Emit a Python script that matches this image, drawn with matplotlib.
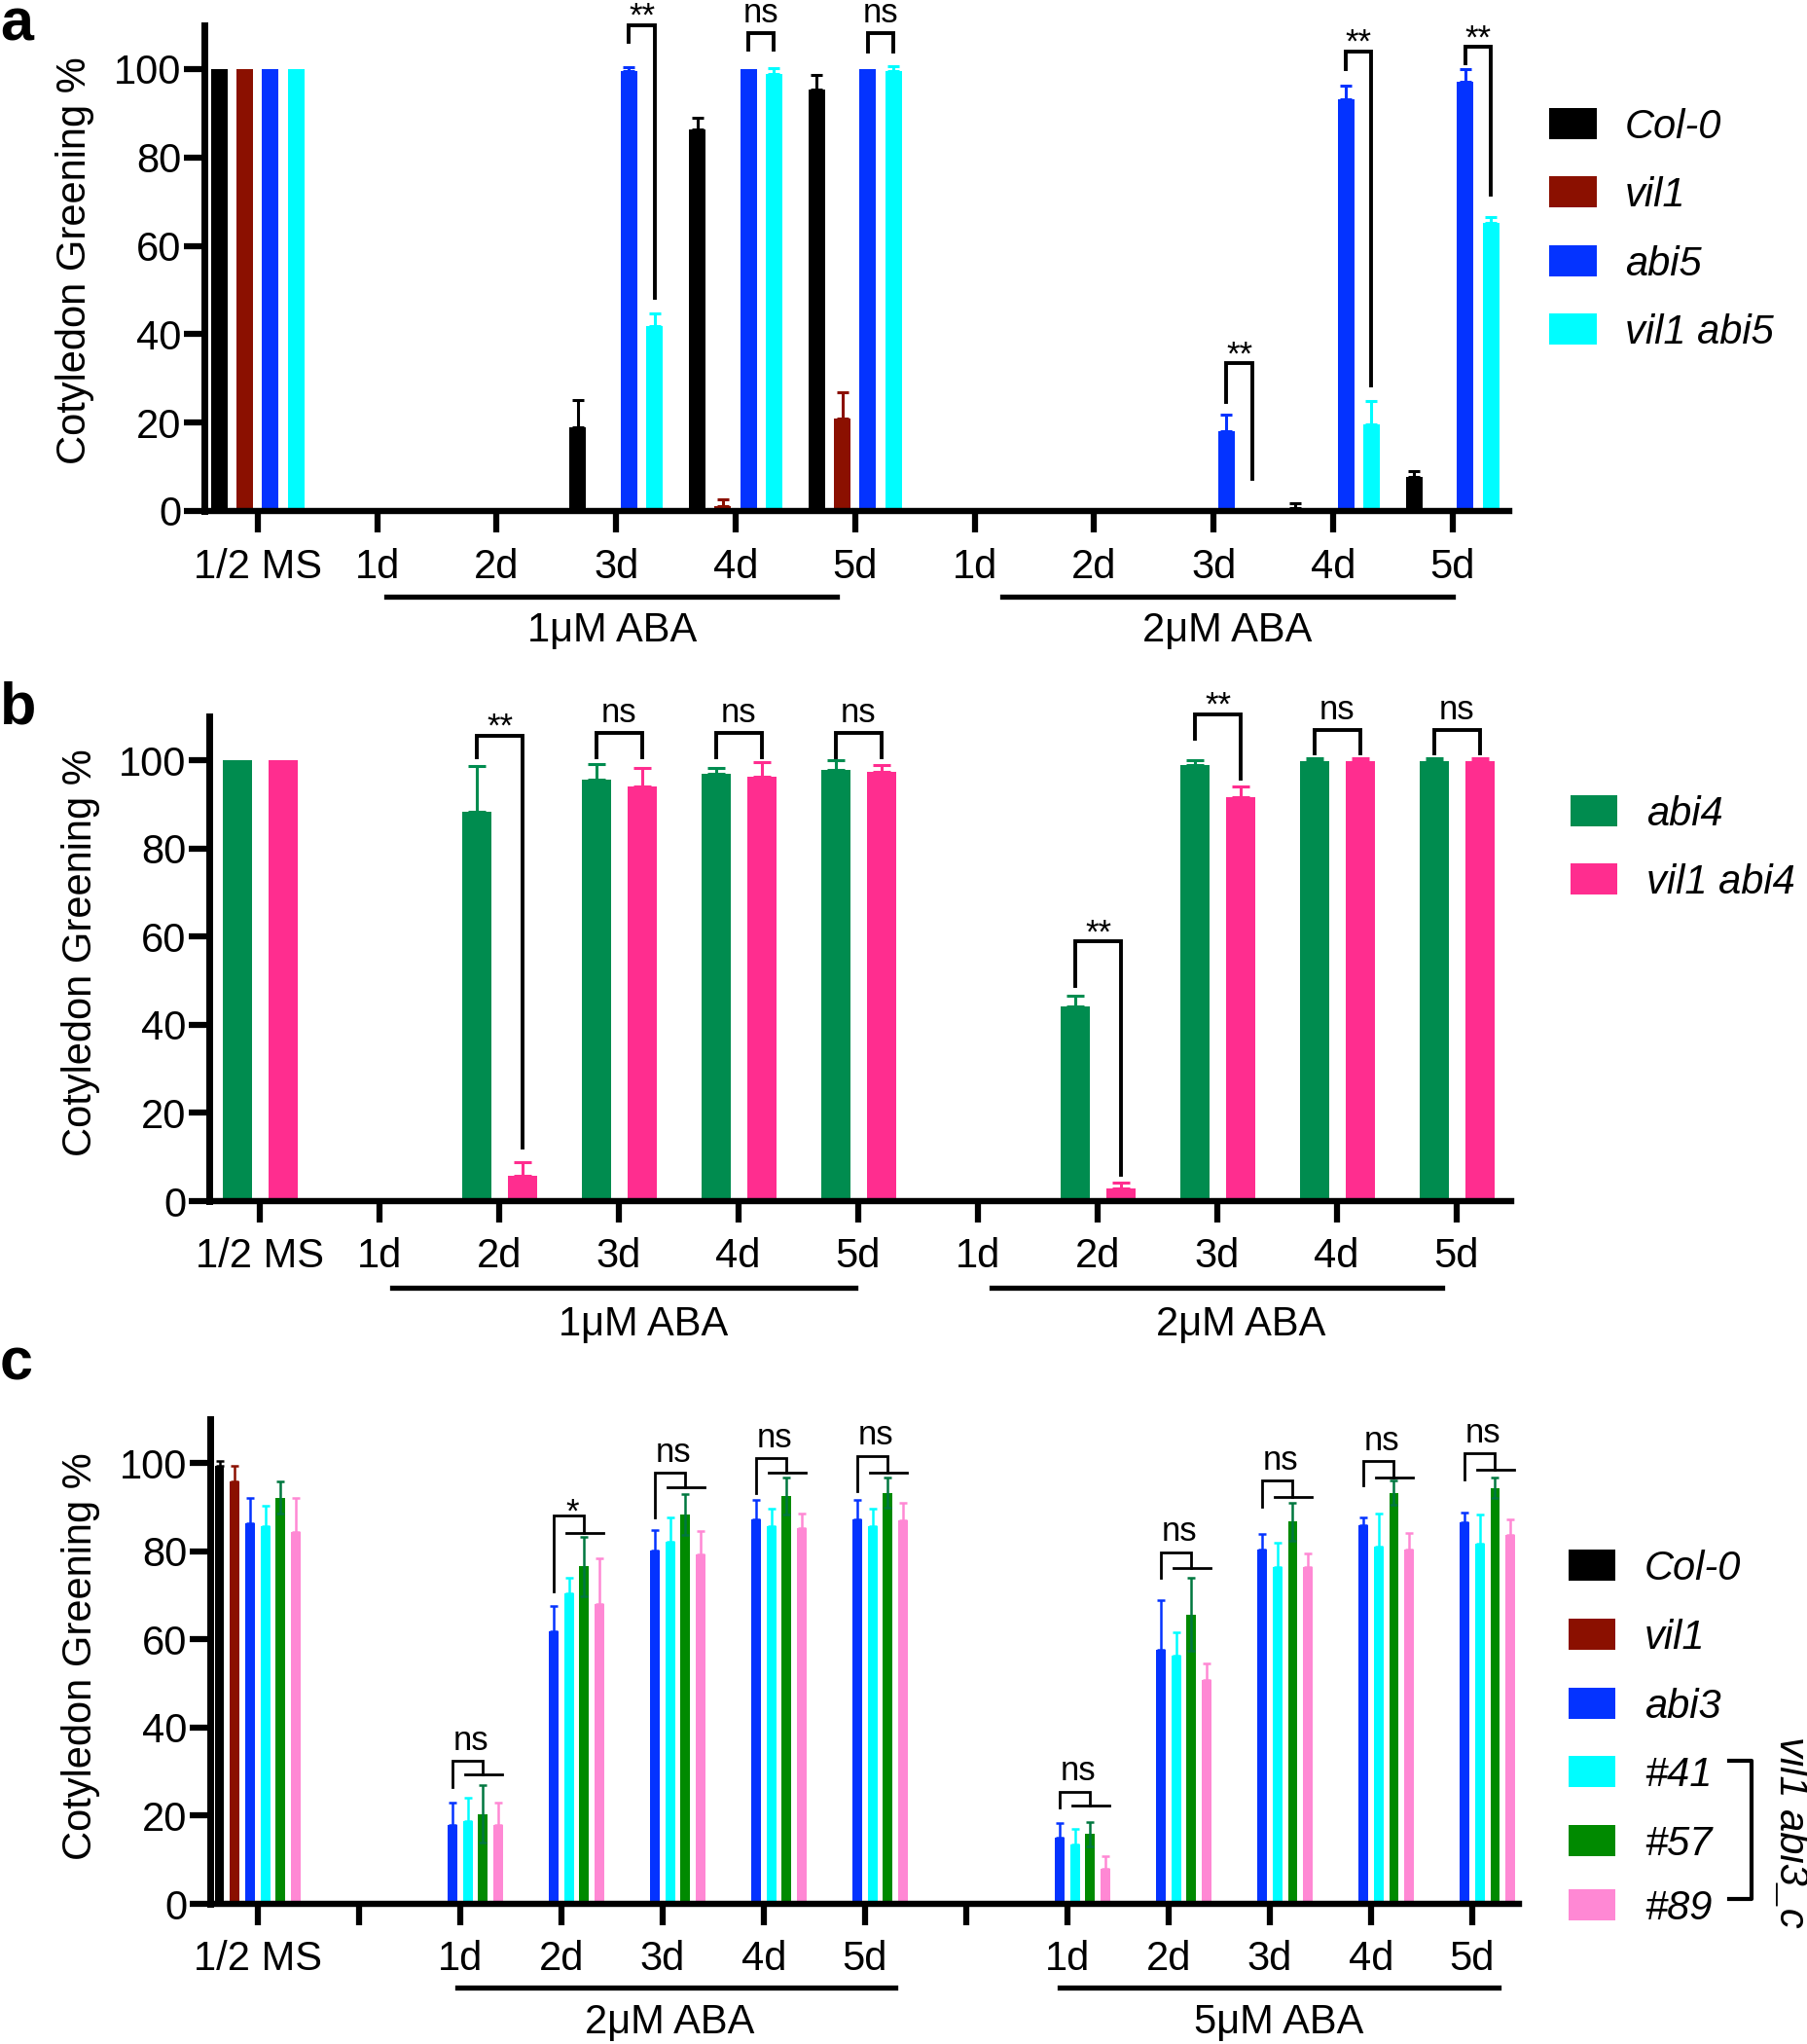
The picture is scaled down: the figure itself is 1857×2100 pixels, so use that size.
import numpy as np
import matplotlib
matplotlib.use("Agg")
import matplotlib.pyplot as plt
from matplotlib.patches import Rectangle
from matplotlib.lines import Line2D

plt.rcParams["font.family"] = ["Liberation Sans", "DejaVu Sans"]

W, H = 1858, 2100

# ---------------- data ----------------
groups_ab = ["1/2 MS", "1d", "2d", "3d", "4d", "5d", "1d", "2d", "3d", "4d", "5d"]
groups_c = ["1/2 MS", "", "1d", "2d", "3d", "4d", "5d", "", "1d", "2d", "3d", "4d", "5d"]

# panel a
a_names = ["Col-0", "vil1", "abi5", "vil1 abi5"]
a_colors = ["#000000", "#8B1000", "#0433FF", "#00FDFF"]
a_col0 = [100, 0, 0, 18.9, 86.4, 95.4, 0, 0, 0, 0.7, 7.6]
a_col0_err = [0, 0, 0, 6.3, 2.6, 3.2, 0, 0, 0, 1.1, 1.5]
a_vil1 = [100, 0, 0, 0, 1.2, 21.0, 0, 0, 0, 0, 0]
a_vil1_err = [0, 0, 0, 0, 1.4, 5.8, 0, 0, 0, 0, 0]
a_abi5 = [100, 0, 0, 99.5, 100, 100, 0, 0, 18.1, 93.2, 97.2]
a_abi5_err = [0, 0, 0, 1.0, 0, 0, 0, 0, 3.7, 3.1, 2.8]
a_vil1abi5 = [100, 0, 0, 41.8, 99.0, 99.6, 0, 0, 0, 19.7, 65.1]
a_vil1abi5_err = [0, 0, 0, 3.0, 1.2, 1.1, 0, 0, 0, 5.2, 1.4]
# (group, bracket top, left leg end, right leg end, label)
a_sig = [(3, 110.0, 106.2, 48.3, "**"), (4, 108.1, 104.3, 104.3, "ns"),
         (5, 108.1, 104.0, 104.0, "ns"), (8, 33.4, 24.7, 7.2, "**"),
         (9, 104.0, 100.0, 28.4, "**"), (10, 105.0, 101.3, 71.6, "**")]

# panel b
b_names = ["abi4", "vil1 abi4"]
b_colors = ["#008C4F", "#FF2D8F"]
b_abi4 = [100, 0, 88.4, 95.6, 97.0, 97.8, 0, 44.2, 99.0, 99.8, 99.8]
b_abi4_err = [0, 0, 10.4, 3.5, 1.2, 2.2, 0, 2.3, 1.1, 0.6, 0.6]
b_vil1abi4 = [100, 0, 5.7, 94.2, 96.3, 97.3, 0, 2.9, 91.6, 99.8, 99.8]
b_vil1abi4_err = [0, 0, 3.1, 4.0, 3.4, 1.6, 0, 1.3, 2.5, 0.6, 0.6]
b_sig = [(2, 105.6, 100.7, 12.2, "**"), (3, 106.2, 100.8, 100.8, "ns"),
         (4, 106.2, 100.8, 100.8, "ns"), (5, 106.2, 100.8, 100.8, "ns"),
         (7, 58.9, 48.8, 6.0, "**"), (8, 110.4, 105.0, 95.9, "**"),
         (9, 106.9, 101.6, 101.6, "ns"), (10, 106.9, 101.6, 101.6, "ns")]

# panel c
c_names = ["Col-0", "vil1", "abi3", "#41", "#57", "#89"]
c_colors = ["#000000", "#8B1000", "#0433FF", "#00FDFF", "#008A00", "#FF88D4"]
c_col0 = [99.4, 0, 0, 0, 0, 0, 0, 0, 0, 0, 0, 0, 0]
c_col0_err = [1.1, 0, 0, 0, 0, 0, 0, 0, 0, 0, 0, 0, 0]
c_vil1 = [95.8, 0, 0, 0, 0, 0, 0, 0, 0, 0, 0, 0, 0]
c_vil1_err = [3.6, 0, 0, 0, 0, 0, 0, 0, 0, 0, 0, 0, 0]
c_abi3 = [86.4, 0, 18.0, 61.8, 80.1, 87.2, 87.2, 0, 15.0, 57.6, 80.5, 86.0, 86.6]
c_abi3_err = [5.6, 0, 5.0, 5.9, 4.8, 4.4, 4.4, 0, 3.4, 11.3, 3.4, 1.8, 2.2]
c_41 = [85.8, 0, 18.7, 70.4, 82.1, 85.6, 85.6, 0, 13.5, 56.3, 76.5, 81.0, 81.7]
c_41_err = [4.5, 0, 5.4, 3.5, 5.6, 4.1, 4.1, 0, 3.4, 5.4, 5.5, 7.5, 6.7]
c_57 = [92.2, 0, 20.4, 76.6, 88.4, 92.6, 93.3, 0, 15.8, 65.7, 86.7, 93.3, 94.4]
c_57_err = [3.7, 0, 6.5, 6.7, 4.7, 4.2, 3.4, 0, 2.7, 8.2, 4.4, 2.8, 2.4]
c_89 = [84.3, 0, 17.9, 68.0, 79.3, 85.2, 87.0, 0, 8.0, 50.9, 76.4, 80.3, 83.7]
c_89_err = [7.7, 0, 5.1, 10.5, 5.4, 3.4, 3.9, 0, 2.9, 3.7, 3.1, 3.9, 3.5]
# (group, bracket top, left leg end, line level, label)
c_sig = [(2, 32.5, 26.6, 29.3, "ns"), (3, 88.2, 70.9, 84.2, "*"),
         (4, 97.8, 87.7, 94.6, "ns"), (5, 101.1, 93.3, 97.8, "ns"),
         (6, 101.7, 93.6, 97.8, "ns"),
         (8, 25.5, 21.8, 22.2, "ns"), (9, 79.8, 74.0, 76.1, "ns"),
         (10, 96.0, 90.1, 92.3, "ns"), (11, 100.5, 94.9, 96.8, "ns"),
         (12, 102.2, 96.2, 98.5, "ns")]

LABEL_SHIFT = {"ns": 2.5, "**": -0.2, "*": -1.6}

fig = plt.figure(figsize=(W / 100, H / 100), dpi=100)


def axes_px(left, right, y0, ytop):
    return fig.add_axes([left / W, 1 - y0 / H, (right - left) / W, (y0 - ytop) / H])


def setup(ax, labels, xlim, ylab_y):
    ax.set_xlim(*xlim)
    ax.set_ylim(0, 110)
    for s in ("top", "right"):
        ax.spines[s].set_visible(False)
    ax.spines["left"].set_linewidth(5)
    ax.spines["bottom"].set_linewidth(4.6)
    ax.set_yticks(np.arange(0, 101, 20))
    ax.set_xticks(np.arange(len(labels)))
    ax.set_xticklabels(labels)
    ax.tick_params(axis="y", length=15, width=4.5, pad=2, labelsize=30)
    ax.tick_params(axis="x", length=16, width=4.5, pad=11, labelsize=30)
    ax.set_ylabel("Cotyledon Greening %", fontsize=30)
    ax.yaxis.set_label_coords(-0.084, ylab_y)
    ax.patch.set_visible(False)


def draw_bars(ax, vals, errs, off, width, color, capsize, elw, ecolor=None, both=False):
    x = np.arange(len(vals)) + off
    vals = np.asarray(vals, float)
    errs = np.asarray(errs, float)
    ax.bar(x, vals, width=width, color=color, linewidth=0)
    m = errs > 0
    if m.any():
        lo = errs[m] if both else np.zeros(m.sum())
        ax.errorbar(x[m], vals[m], yerr=[lo, errs[m]], fmt="none",
                    ecolor=ecolor or color, elinewidth=elw, capsize=capsize,
                    capthick=elw)


def group_line(ax, x0, x1, text, xt=None, yl=-0.176, yt=-0.268):
    tr = ax.get_xaxis_transform()
    ax.plot([x0, x1], [yl, yl], transform=tr, color="k", lw=3.8, clip_on=False)
    ax.text((x0 + x1) / 2 if xt is None else xt, yt, text, transform=tr,
            ha="center", va="baseline", fontsize=30)


def bracket(ax, xl, xr, top, yl, yr, label, lw, xt=None):
    ax.plot([xl, xl, xr, xr], [yl, top, top, yr], color="k", lw=lw,
            clip_on=False, solid_joinstyle="miter")
    ax.text((xl + xr) / 2 if xt is None else xt, top + LABEL_SHIFT[label], label,
            ha="center", va="baseline", fontsize=25, clip_on=False)


# ---------------- panel a ----------------
ax_a = axes_px(210, 1551, 525, 25.6)
setup(ax_a, groups_ab, (-0.446, 10.474), 0.515)
a_vals = [a_col0, a_vil1, a_abi5, a_vil1abi5]
a_errs = [a_col0_err, a_vil1_err, a_abi5_err, a_vil1abi5_err]
a_pitch = 0.214
for i, (v, e, c) in enumerate(zip(a_vals, a_errs, a_colors)):
    draw_bars(ax_a, v, e, (i - 1.5) * a_pitch, 0.138, c, capsize=4.5, elw=2.2)
for g, top, yl, yr, lab in a_sig:
    bracket(ax_a, g + 0.5 * a_pitch, g + 1.5 * a_pitch, top, yl, yr, lab, 2.8)
group_line(ax_a, 1.08, 4.85, "1μM ABA")
group_line(ax_a, 6.23, 10.0, "2μM ABA")

# ---------------- panel b ----------------
ax_b = axes_px(215, 1553, 1234, 736)
setup(ax_b, groups_ab, (-0.42, 10.458), 0.513)
b_vals = [b_abi4, b_vil1abi4]
b_errs = [b_abi4_err, b_vil1abi4_err]
b_offs = [-0.183, 0.197]
for v, e, c, o in zip(b_vals, b_errs, b_colors, b_offs):
    draw_bars(ax_b, v, e, o, 0.246, c, capsize=6.5, elw=2.2)
for g, top, yl, yr, lab in b_sig:
    bracket(ax_b, g + b_offs[0], g + b_offs[1], top, yl, yr, lab, 2.8)
group_line(ax_b, 1.11, 4.98, "1μM ABA", xt=3.21, yl=-0.179, yt=-0.277)
group_line(ax_b, 6.12, 9.88, "2μM ABA", xt=8.2, yl=-0.179, yt=-0.277)

# ---------------- panel c ----------------
ax_c = axes_px(216, 1561, 1956, 1458)
setup(ax_c, groups_c, (-0.469, 12.463), 0.51)
c_vals = [c_col0, c_vil1, c_abi3, c_41, c_57, c_89]
c_errs = [c_col0_err, c_vil1_err, c_abi3_err, c_41_err, c_57_err, c_89_err]
c_pitch = 0.151
for i, (v, e, c) in enumerate(zip(c_vals, c_errs, c_colors)):
    if c_names[i] == "#57":
        draw_bars(ax_c, v, e, (i - 2.5) * c_pitch, 0.094, c, capsize=2.6,
                  elw=1.8, ecolor="#00773F", both=True)
    else:
        draw_bars(ax_c, v, e, (i - 2.5) * c_pitch, 0.094, c, capsize=2.6, elw=1.8)
for g, top, yl, yline, lab in c_sig:
    xl = g - 0.5 * c_pitch
    xr = g + 1.5 * c_pitch
    ax_c.plot([xl, xl, xr, xr], [yl, top, top, yline], color="k", lw=2.0,
              clip_on=False, solid_joinstyle="miter")
    ax_c.plot([g + 0.5 * c_pitch - 0.025, g + 2.5 * c_pitch + 0.04], [yline, yline],
              color="k", lw=2.0, clip_on=False)
    ax_c.text((xl + xr) / 2 + 0.035, top + LABEL_SHIFT[lab], lab, ha="center",
              va="baseline", fontsize=25)
group_line(ax_c, 1.97, 6.3, "2μM ABA", xt=4.07, yl=-0.172, yt=-0.268)
group_line(ax_c, 7.92, 12.26, "5μM ABA", yl=-0.172, yt=-0.268)


# ---------------- legends (figure pixels) ----------------
def legend(names, colors, x0, x1, centers, xtext):
    for n, c, yc in zip(names, colors, centers):
        fig.add_artist(Rectangle((x0 / W, 1 - (yc + 16) / H), (x1 - x0) / W, 32 / H,
                                 transform=fig.transFigure, color=c, lw=0))
        fig.text(xtext / W, 1 - (yc + 15) / H, n, fontsize=30, style="italic",
                 ha="left", va="baseline")


legend(a_names, a_colors, 1592, 1641, [127, 197, 268, 338], 1670)
legend(b_names, b_colors, 1614, 1662, [833, 903], 1692)
legend(c_names, c_colors, 1612, 1660, [1608, 1679, 1750, 1820, 1891, 1957], 1690)

bx = [1777, 1800, 1800, 1777]
by = [1809, 1809, 1951, 1951]
fig.add_artist(Line2D([x / W for x in bx], [1 - y / H for y in by],
                      transform=fig.transFigure, color="k", lw=3.0))
fig.text(1840 / W, 1 - 1882 / H, "vil1 abi3_c", rotation=-90, fontsize=30,
         style="italic", ha="center", va="center")

# panel letters
for lab, yb in [("a", 42), ("b", 744), ("c", 1417)]:
    fig.text(0.0, 1 - yb / H, lab, fontsize=44, fontweight="bold",
             ha="left", va="baseline")

fig.savefig("out.png", dpi=100)
